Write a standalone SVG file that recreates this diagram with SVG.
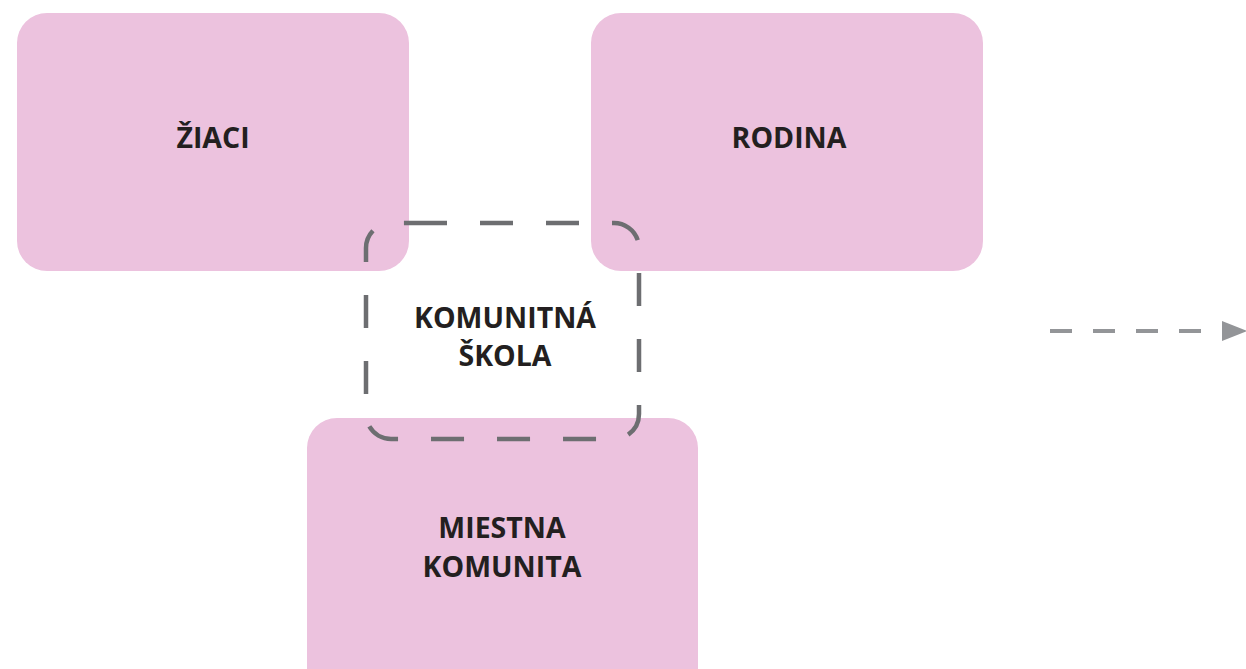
<svg xmlns="http://www.w3.org/2000/svg" width="1246" height="669" viewBox="0 0 1246 669">
<defs>
<style>
.box{fill:#ecc2de;}
.lbl{font-family:"Open Sans","Liberation Sans",sans-serif;font-weight:bold;font-size:28.5px;fill:#231f20;text-anchor:middle;}
.dash{fill:none;stroke:#6d6e71;stroke-width:4.5;stroke-dasharray:33 33;}
.arr{fill:none;stroke:#939598;stroke-width:4;stroke-dasharray:22 21;}
</style>
</defs>
<rect width="1246" height="669" fill="#ffffff"/>
<g id="ziaci">
<rect class="box" x="17" y="13" width="392" height="258" rx="30"/>
<text class="lbl" x="213" y="148">ŽIACI</text>
</g>
<g id="rodina">
<rect class="box" x="591" y="13" width="392" height="258" rx="30"/>
<text class="lbl" x="789" y="148">RODINA</text>
</g>
<g id="miestna">
<rect class="box" x="307" y="418" width="391" height="290" rx="30"/>
<text class="lbl" x="502" y="538">MIESTNA</text>
<text class="lbl" x="502" y="577">KOMUNITA</text>
</g>
<g id="komunitna">
<path class="dash" d="M414,223 L614,223 A25,25 0 0 1 639,248 L639,414 A25,25 0 0 1 614,439 L391,439 A25,25 0 0 1 366,414 L366,248 A25,25 0 0 1 391,223 Z"/>
<text class="lbl" x="505" y="328">KOMUNITNÁ</text>
<text class="lbl" x="505" y="366">ŠKOLA</text>
</g>
<g id="connectors">
<path class="arr" d="M1050,331 L1222,331"/>
<path d="M1222,321 L1247,331 L1222,341 z" fill="#939598"/>
</g>
</svg>
